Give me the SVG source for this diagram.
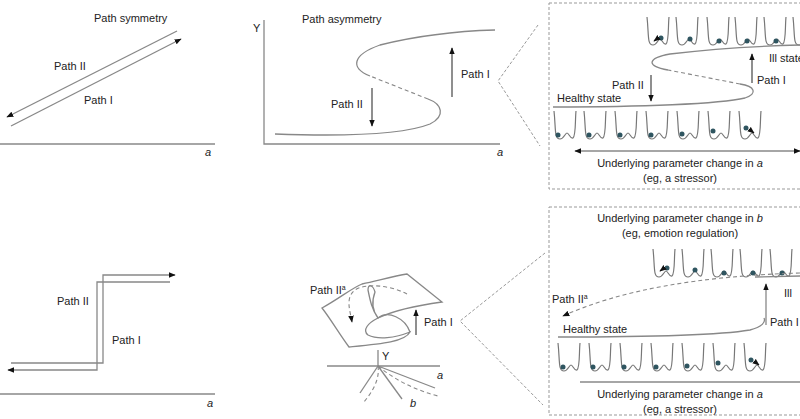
<svg xmlns="http://www.w3.org/2000/svg" width="800" height="419" viewBox="0 0 800 419">
<defs>
<marker id="ah" viewBox="0 0 10 10" refX="9" refY="5" markerWidth="7" markerHeight="7" orient="auto-start-reverse" markerUnits="userSpaceOnUse"><path d="M0,1 L10,5 L0,9 z" fill="#111"/></marker>
<path id="well" d="M0,0 C2,18 0,28 6,28 C10,28 11,22 13,22 C15,22 16,28 19,27 C22,25 21,10 22,0" fill="none" stroke="#777" stroke-width="1.2"/>
</defs>
<style>
text{font-family:"Liberation Sans Narrow","Liberation Sans",Arial,sans-serif;font-size:11px;fill:#222}
.t{text-anchor:middle}
.ln{fill:none;stroke:#888;stroke-width:1.3}
.dk{fill:none;stroke:#333;stroke-width:1.1}
.ds{fill:none;stroke:#888;stroke-width:1.1;stroke-dasharray:4,3}
.bx{fill:none;stroke:#999;stroke-width:1;stroke-dasharray:3,2}
.ball{fill:#2f5560}
</style>
<rect width="800" height="419" fill="#fff"/>

<g id="panel-symmetry">
<text x="94" y="22">Path symmetry</text>
<line class="ln" x1="0" y1="144" x2="215" y2="144"/>
<text x="205" y="156" font-style="italic">a</text>
<line class="ln" x1="177" y1="31" x2="7" y2="117" marker-end="url(#ah)"/>
<line class="ln" x1="11" y1="126" x2="181" y2="39" marker-end="url(#ah)"/>
<text x="54" y="70">Path II</text>
<text x="84" y="104">Path I</text>
</g>

<g id="panel-asymmetry">
<text x="302" y="23">Path asymmetry</text>
<text x="253" y="32">Y</text>
<polyline class="ln" points="264,20 264,144 500,144"/>
<text x="497" y="156" font-style="italic">a</text>
<path class="ln" d="M275,134 C330,136 400,136 430,124 C446,116 442,104 428,99"/>
<path class="ds" d="M428,99 L370,76"/>
<path class="ln" d="M370,76 C350,68 352,55 380,45 C420,35 460,31 495,30"/>
<line class="dk" x1="372" y1="88" x2="372" y2="126" marker-end="url(#ah)"/>
<text x="331" y="108">Path II</text>
<line class="dk" x1="452" y1="97" x2="452" y2="48" marker-end="url(#ah)"/>
<text x="461" y="78">Path I</text>
</g>

<g id="panel-step">
<line class="ln" x1="0" y1="394" x2="215" y2="394"/>
<text x="207" y="407" font-style="italic">a</text>
<polyline class="ln" points="11,363 103,363 103,275 175,275" marker-end="url(#ah)"/>
<polyline class="ln" points="170,282 97,282 97,370 8,370" marker-end="url(#ah)"/>
<text x="57" y="305">Path II</text>
<text x="112" y="344">Path I</text>
</g>

<g id="panel-cusp">
<path class="ln" stroke="#555" d="M322,308 C340,298 352,288 362,284 C380,280 395,276 407,274 L442,302 C420,305 395,310 378,318 C368,323 362,330 368,335 C378,340 395,338 410,332 C405,342 380,344 349,347 C340,335 330,318 322,308 Z"/>
<path class="ln" stroke="#555" d="M410,332 C405,318 388,310 378,318 C372,310 372,300 375,292 C373,285 368,283 368,290 C370,300 372,310 378,318"/>
<path class="ds" d="M407,294 C390,285 365,283 355,290 C345,298 350,310 352,322" marker-end="url(#ah)"/>
<line class="dk" x1="416" y1="335" x2="416" y2="310" marker-end="url(#ah)"/>
<text x="424" y="326">Path I</text>
<text x="310" y="294">Path II<tspan font-size="7" dy="-4">a</tspan></text>
<line class="ln" stroke="#555" x1="378" y1="350" x2="378" y2="367"/>
<text x="382" y="360">Y</text>
<line class="ln" stroke="#555" x1="327" y1="366" x2="440" y2="366"/>
<text x="437" y="379" font-style="italic">a</text>
<line class="ln" stroke="#555" x1="378" y1="366" x2="360" y2="393"/>
<line class="ln" stroke="#555" x1="378" y1="366" x2="402" y2="399"/>
<line class="ln" stroke="#555" x1="378" y1="366" x2="435" y2="388"/>
<path class="ds" d="M378,366 C395,380 415,390 438,396"/>
<path class="ds" d="M378,366 C380,380 372,392 364,402"/>
<text x="410" y="407" font-style="italic">b</text>
</g>

<g id="connectors">
<polyline class="bx" points="538,25 498,81 540,146"/>
<polyline class="bx" points="545,253 460,321 543,405"/>
</g>

<g id="box-top">
<rect class="bx" x="549" y="3" width="260" height="186"/>
<use href="#well" x="647" y="17"/><use href="#well" x="676" y="17"/><use href="#well" x="707" y="17"/><use href="#well" x="735" y="17"/><use href="#well" x="764" y="17"/><use href="#well" x="793" y="17"/>
<circle class="ball" cx="661" cy="38" r="2.5"/><line class="dk" x1="658" y1="38" x2="654" y2="41" marker-end="url(#ah)"/>
<circle class="ball" cx="690" cy="39" r="2.5"/><circle class="ball" cx="719" cy="41" r="2.5"/><circle class="ball" cx="747" cy="41" r="2.5"/><circle class="ball" cx="776" cy="41" r="2.5"/>
<path class="ln" d="M553,107 C640,107 720,104 745,98 C758,94 755,86 740,84"/>
<path class="ds" d="M740,84 L668,70"/>
<path class="ln" d="M668,70 C645,66 648,58 670,54 C720,48 760,46 800,45"/>
<text x="557" y="102">Healthy state</text>
<text x="769" y="62">Ill state</text>
<line class="dk" x1="651" y1="75" x2="651" y2="101" marker-end="url(#ah)"/>
<text x="612" y="89">Path II</text>
<line class="dk" x1="752" y1="83" x2="752" y2="54" marker-end="url(#ah)"/>
<text x="757" y="84">Path I</text>
<use href="#well" x="554" y="111"/><use href="#well" x="584" y="111"/><use href="#well" x="615" y="111"/><use href="#well" x="646" y="111"/><use href="#well" x="677" y="111"/><use href="#well" x="708" y="111"/><use href="#well" x="739" y="111"/>
<circle class="ball" cx="558" cy="135" r="2.5"/><circle class="ball" cx="589" cy="135" r="2.5"/><circle class="ball" cx="620" cy="135" r="2.5"/><circle class="ball" cx="651" cy="135" r="2.5"/><circle class="ball" cx="682" cy="134" r="2.5"/><circle class="ball" cx="713" cy="131" r="2.5"/><circle class="ball" cx="746" cy="128" r="2.5"/>
<line class="dk" x1="749" y1="129" x2="754" y2="133" marker-end="url(#ah)"/>
<line class="ln" stroke="#666" x1="575" y1="151" x2="800" y2="151" marker-start="url(#ah)" marker-end="url(#ah)"/>
<text x="680" y="167" class="t">Underlying parameter change in <tspan font-style="italic">a</tspan></text>
<text x="680" y="182" class="t">(eg, a stressor)</text>
</g>

<g id="box-bottom">
<rect class="bx" x="549" y="207" width="260" height="208"/>
<text x="680" y="222" class="t">Underlying parameter change in <tspan font-style="italic">b</tspan></text>
<text x="680" y="237" class="t">(eg, emotion regulation)</text>
<use href="#well" x="653" y="249"/><use href="#well" x="682" y="249"/><use href="#well" x="711" y="249"/><use href="#well" x="740" y="249"/><use href="#well" x="770" y="249"/>
<circle class="ball" cx="667" cy="268" r="2.5"/><line class="dk" x1="664" y1="268" x2="660" y2="271" marker-end="url(#ah)"/>
<circle class="ball" cx="695" cy="270" r="2.5"/><circle class="ball" cx="724" cy="273" r="2.5"/><circle class="ball" cx="753" cy="273" r="2.5"/><circle class="ball" cx="782" cy="273" r="2.5"/>
<path class="ds" d="M800,273 C700,276 620,290 563,316" marker-end="url(#ah)"/>
<line class="ln" x1="755" y1="277" x2="800" y2="276"/>
<text x="552" y="303">Path II<tspan font-size="7" dy="-4">a</tspan></text>
<text x="784" y="297">Ill</text>
<line class="ln" stroke="#777" x1="766" y1="325" x2="766" y2="284" marker-end="url(#ah)"/>
<text x="770" y="326">Path I</text>
<path class="ln" d="M558,337 C640,337 720,335 750,330 C762,327 766,322 764,318"/>
<text x="563" y="333">Healthy state</text>
<use href="#well" x="558" y="343"/><use href="#well" x="589" y="343"/><use href="#well" x="620" y="343"/><use href="#well" x="651" y="343"/><use href="#well" x="682" y="343"/><use href="#well" x="713" y="343"/><use href="#well" x="744" y="343"/>
<circle class="ball" cx="563" cy="367" r="2.5"/><circle class="ball" cx="593" cy="367" r="2.5"/><circle class="ball" cx="624" cy="367" r="2.5"/><circle class="ball" cx="656" cy="367" r="2.5"/><circle class="ball" cx="687" cy="366" r="2.5"/><circle class="ball" cx="718" cy="363" r="2.5"/><circle class="ball" cx="751" cy="360" r="2.5"/>
<line class="dk" x1="754" y1="361" x2="759" y2="365" marker-end="url(#ah)"/>
<line class="ln" stroke="#666" x1="580" y1="382" x2="800" y2="382"/>
<text x="680" y="398" class="t">Underlying parameter change in <tspan font-style="italic">a</tspan></text>
<text x="680" y="413" class="t">(eg, a stressor)</text>
</g>
</svg>
